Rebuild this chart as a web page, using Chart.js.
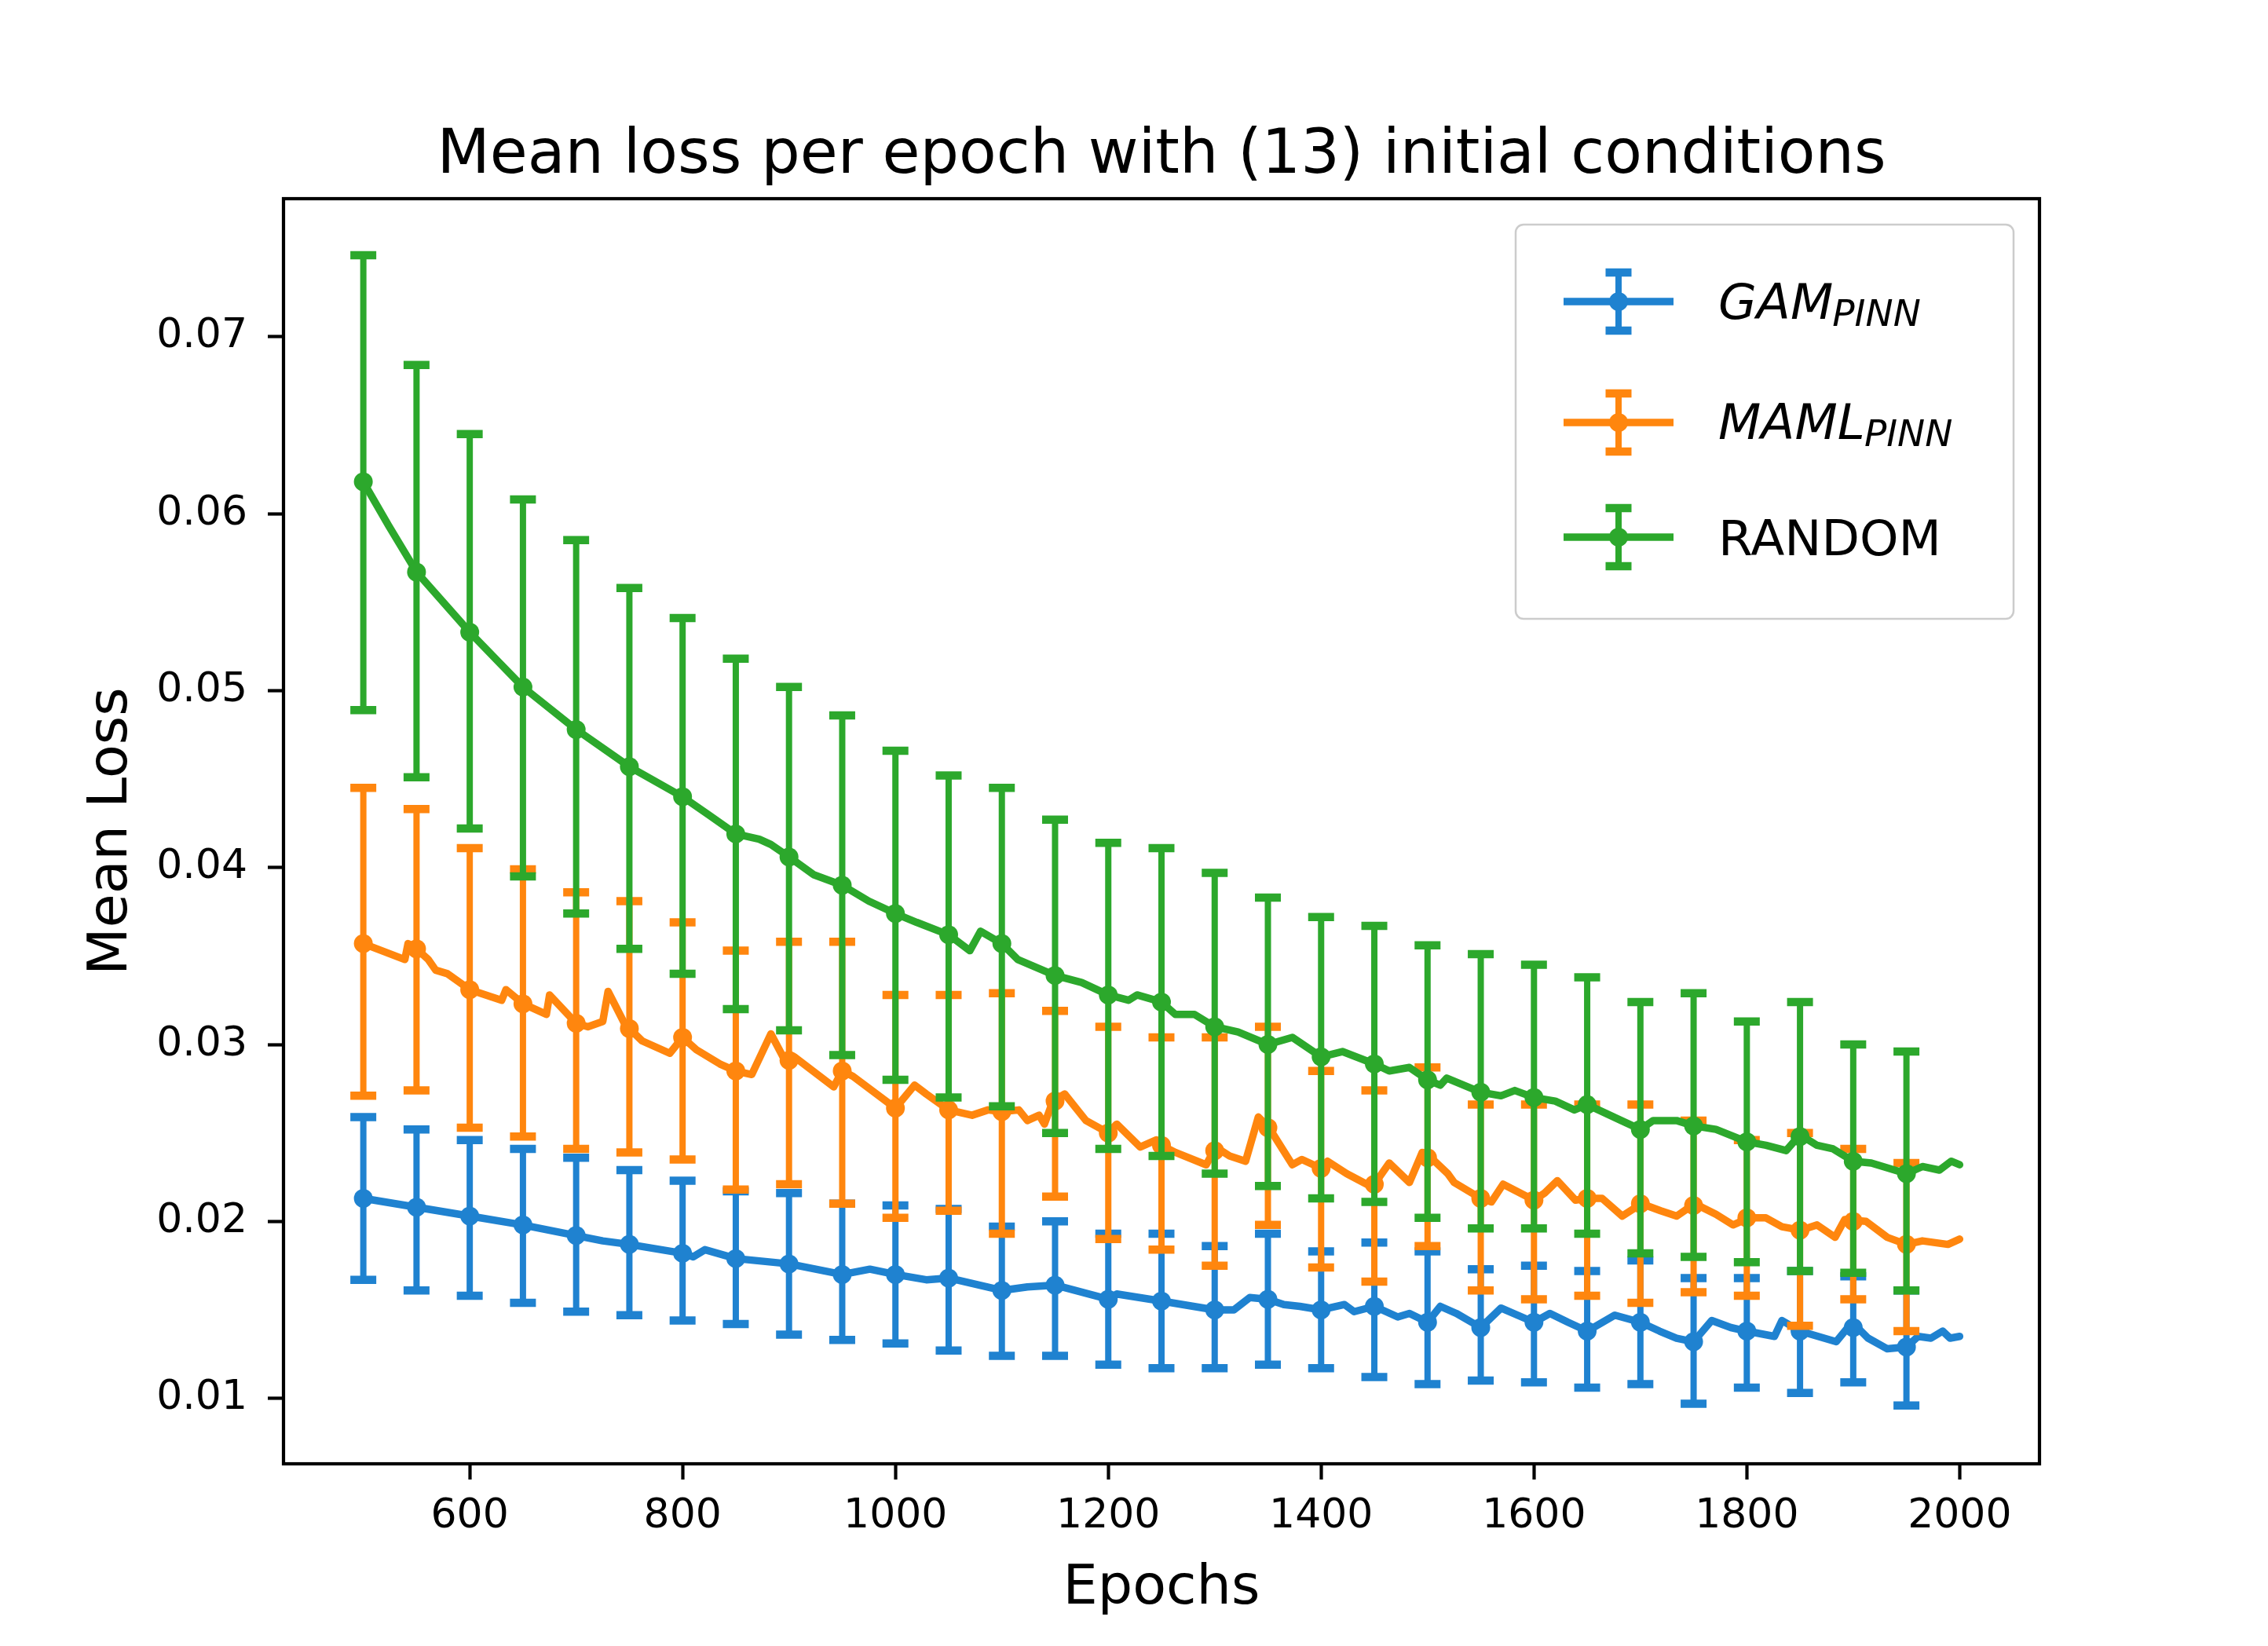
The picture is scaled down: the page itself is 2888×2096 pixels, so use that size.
<!DOCTYPE html>
<html>
<head>
<meta charset="utf-8">
<script src="https://cdn.jsdelivr.net/npm/chart.js@4.4.1/dist/chart.umd.min.js"></script>
<style>
  html, body { margin: 0; padding: 0; background: #ffffff; }
  #wrap { width: 2888px; height: 2096px; }
</style>
</head>
<body>
<div id="wrap"><canvas id="lossChart" width="2888" height="2096"></canvas></div>
<script>
/* ---------------- DATA ---------------- */

const markerEpochs = [500, 550, 600, 650, 700, 750, 800, 850, 900, 950,
                      1000, 1050, 1100, 1150, 1200, 1250, 1300, 1350, 1400, 1450,
                      1500, 1550, 1600, 1650, 1700, 1750, 1800, 1850, 1900, 1950];

const gamMean = [0.0213, 0.0208, 0.0203, 0.0198, 0.0192, 0.0187, 0.0182, 0.0179, 0.0176, 0.0170,
                 0.0170, 0.0168, 0.0161, 0.0164, 0.0156, 0.0155, 0.0150, 0.0156, 0.0150, 0.0152,
                 0.0143, 0.0140, 0.0143, 0.0138, 0.0143, 0.0132, 0.0138, 0.0138, 0.0140, 0.0129];
const gamHigh = [0.0259, 0.0252, 0.0246, 0.0241, 0.0236, 0.0229, 0.0223, 0.0217, 0.0216, 0.0210,
                 0.0209, 0.0207, 0.0197, 0.0200, 0.0193, 0.0193, 0.0186, 0.0193, 0.0183, 0.0188,
                 0.0183, 0.0173, 0.0175, 0.0172, 0.0178, 0.0168, 0.0168, 0.0172, 0.0169, 0.0161];
const gamLow  = [0.0167, 0.0161, 0.0158, 0.0154, 0.0149, 0.0147, 0.0144, 0.0142, 0.0136, 0.0133,
                 0.0131, 0.0127, 0.0124, 0.0124, 0.0119, 0.0117, 0.0117, 0.0119, 0.0117, 0.0112,
                 0.0108, 0.0110, 0.0109, 0.0106, 0.0108, 0.0097, 0.0106, 0.0103, 0.0109, 0.0096];

const mamlMean = [0.0357, 0.0354, 0.0331, 0.0323, 0.0312, 0.0309, 0.0304, 0.0285, 0.0291, 0.0285,
                  0.0264, 0.0263, 0.0262, 0.0268, 0.0250, 0.0243, 0.0240, 0.0253, 0.0230, 0.0221,
                  0.0236, 0.0213, 0.0212, 0.0213, 0.0210, 0.0209, 0.0202, 0.0195, 0.0200, 0.0187];
const mamlHigh = [0.0445, 0.0433, 0.0411, 0.0399, 0.0386, 0.0381, 0.0369, 0.0353, 0.0358, 0.0358,
                  0.0328, 0.0328, 0.0329, 0.0319, 0.0310, 0.0304, 0.0304, 0.0310, 0.0285, 0.0274,
                  0.0287, 0.0266, 0.0266, 0.0266, 0.0266, 0.0257, 0.0246, 0.0250, 0.0241, 0.0233];
const mamlLow  = [0.0271, 0.0274, 0.0253, 0.0248, 0.0241, 0.0239, 0.0235, 0.0218, 0.0221, 0.0210,
                  0.0202, 0.0206, 0.0193, 0.0214, 0.0190, 0.0184, 0.0175, 0.0198, 0.0174, 0.0166,
                  0.0186, 0.0161, 0.0156, 0.0158, 0.0154, 0.0160, 0.0158, 0.0141, 0.0156, 0.0138];

const randMean = [0.0618, 0.0567, 0.0533, 0.0502, 0.0478, 0.0457, 0.0440, 0.0419, 0.0406, 0.0390,
                  0.0374, 0.0362, 0.0357, 0.0339, 0.0328, 0.0324, 0.0310, 0.0300, 0.0293, 0.0289,
                  0.0280, 0.0273, 0.0270, 0.0266, 0.0252, 0.0254, 0.0245, 0.0248, 0.0234, 0.0227];
const randHigh = [0.0746, 0.0684, 0.0645, 0.0608, 0.0585, 0.0558, 0.0541, 0.0518, 0.0502, 0.0486,
                  0.0466, 0.0452, 0.0445, 0.0427, 0.0414, 0.0411, 0.0397, 0.0383, 0.0372, 0.0367,
                  0.0356, 0.0351, 0.0345, 0.0338, 0.0324, 0.0329, 0.0313, 0.0324, 0.0300, 0.0296];
const randLow  = [0.0489, 0.0451, 0.0422, 0.0395, 0.0374, 0.0354, 0.0340, 0.0320, 0.0308, 0.0294,
                  0.0280, 0.0270, 0.0265, 0.0250, 0.0241, 0.0237, 0.0227, 0.0220, 0.0213, 0.0211,
                  0.0202, 0.0196, 0.0196, 0.0193, 0.0182, 0.0180, 0.0177, 0.0172, 0.0171, 0.0161];

// per-epoch mean curves, [epoch, loss]
const gamCurve = [[500,0.0213],[550,0.0208],[600,0.0203],[650,0.0198],[700,0.0192],[725,0.0189],
  [750,0.0187],[800,0.0182],[810,0.0180],[821,0.0184],[850,0.0179],[900,0.0176],[950,0.0170],
  [976,0.0173],[1000,0.0170],[1029,0.0167],[1050,0.0168],[1100,0.0161],[1124,0.0163],[1150,0.0164],
  [1200,0.0156],[1208,0.0159],[1250,0.0155],[1300,0.0150],[1318,0.0150],[1333,0.0157],[1350,0.0156],
  [1365,0.0153],[1380,0.0152],[1400,0.0150],[1422,0.0153],[1431,0.0149],[1450,0.0152],[1472,0.0146],
  [1483,0.0148],[1500,0.0143],[1512,0.0152],[1527,0.0148],[1550,0.0140],[1569,0.0151],[1600,0.0143],
  [1615,0.0148],[1632,0.0143],[1650,0.0138],[1676,0.0147],[1700,0.0143],[1718,0.0138],[1734,0.0134],
  [1750,0.0132],[1767,0.0144],[1785,0.0140],[1800,0.0138],[1826,0.0135],[1833,0.0144],[1850,0.0138],
  [1884,0.0132],[1899,0.0143],[1914,0.0134],[1932,0.0128],[1950,0.0129],[1961,0.0135],[1973,0.0134],
  [1984,0.0138],[1991,0.0134],[2000,0.0135]];

const mamlCurve = [[500,0.0357],[539,0.0348],[542,0.0357],[550,0.0354],[561,0.0348],[568,0.0342],
  [579,0.0340],[600,0.0331],[630,0.0325],[634,0.0331],[650,0.0323],[672,0.0317],[675,0.0328],
  [700,0.0312],[711,0.0310],[725,0.0313],[730,0.0330],[747,0.0310],[750,0.0309],[762,0.0302],
  [788,0.0295],[800,0.0304],[813,0.0297],[835,0.0289],[850,0.0285],[865,0.0283],[883,0.0306],
  [897,0.0290],[905,0.0293],[942,0.0276],[950,0.0285],[960,0.0282],[1000,0.0264],[1018,0.0277],
  [1029,0.0272],[1050,0.0263],[1072,0.0260],[1087,0.0263],[1100,0.0262],[1116,0.0263],[1124,0.0257],
  [1135,0.0260],[1140,0.0255],[1148,0.0268],[1159,0.0272],[1179,0.0257],[1200,0.0250],[1208,0.0255],
  [1230,0.0242],[1245,0.0246],[1250,0.0243],[1263,0.0239],[1292,0.0232],[1301,0.0242],[1314,0.0237],
  [1329,0.0234],[1341,0.0259],[1351,0.0253],[1373,0.0232],[1382,0.0235],[1400,0.0230],[1406,0.0234],
  [1424,0.0227],[1446,0.0220],[1450,0.0221],[1464,0.0233],[1483,0.0222],[1495,0.0239],[1505,0.0235],
  [1519,0.0227],[1525,0.0222],[1550,0.0213],[1560,0.0211],[1571,0.0221],[1600,0.0212],[1610,0.0216],
  [1622,0.0223],[1639,0.0212],[1650,0.0213],[1664,0.0213],[1683,0.0203],[1701,0.0210],[1719,0.0206],
  [1734,0.0203],[1751,0.0210],[1771,0.0204],[1787,0.0198],[1802,0.0202],[1818,0.0202],[1833,0.0197],
  [1851,0.0195],[1866,0.0198],[1883,0.0191],[1892,0.0201],[1912,0.0200],[1932,0.0191],[1950,0.0187],
  [1965,0.0189],[1989,0.0187],[2000,0.0190]];

const randCurve = [[500,0.0618],[524,0.0593],[550,0.0567],[600,0.0533],[650,0.0502],[700,0.0478],
  [750,0.0457],[800,0.0440],[824,0.0430],[850,0.0419],[872,0.0416],[883,0.0413],[900,0.0406],
  [923,0.0396],[950,0.0390],[975,0.0381],[1000,0.0374],[1020,0.0369],[1050,0.0362],[1070,0.0353],
  [1080,0.0364],[1100,0.0357],[1115,0.0348],[1150,0.0339],[1175,0.0335],[1200,0.0328],[1219,0.0325],
  [1227,0.0328],[1250,0.0324],[1263,0.0317],[1281,0.0317],[1300,0.0310],[1322,0.0307],[1350,0.0300],
  [1373,0.0304],[1400,0.0293],[1420,0.0296],[1450,0.0289],[1464,0.0285],[1483,0.0287],[1500,0.0280],
  [1512,0.0277],[1518,0.0281],[1550,0.0273],[1569,0.0271],[1582,0.0274],[1600,0.0270],[1620,0.0268],
  [1638,0.0263],[1650,0.0266],[1682,0.0257],[1700,0.0252],[1712,0.0257],[1734,0.0257],[1750,0.0254],
  [1771,0.0252],[1800,0.0245],[1818,0.0243],[1837,0.0240],[1850,0.0249],[1866,0.0243],[1881,0.0241],
  [1900,0.0234],[1917,0.0233],[1950,0.0227],[1965,0.0231],[1981,0.0229],[1992,0.0234],[2000,0.0232]];

const xTicks = [600, 800, 1000, 1200, 1400, 1600, 1800, 2000];
const yTicks = [0.01, 0.02, 0.03, 0.04, 0.05, 0.06, 0.07];

const titleText = "Mean loss per epoch with (13) initial conditions";

/* ---------------- STYLE ---------------- */

const BLUE = "#1f82d0";
const ORANGE = "#ff860e";
const GREEN = "#2ca82c";
const FONT = "'DejaVu Sans', 'Liberation Sans', sans-serif";

const LINE_W = 9.5;
const BAR_W = 8;
const CAP_W = 33;
const CAP_THICK = 10.5;
const MARKER_R = 12;

/* ---------------- ERROR BARS, FRAME, TEXT, LEGEND ---------------- */

function drawErrorBar(ctx, px, top, bottom, color) {
    ctx.strokeStyle = color;
    ctx.lineCap = "butt";

    ctx.lineWidth = BAR_W;
    ctx.beginPath();
    ctx.moveTo(px, top);
    ctx.lineTo(px, bottom);
    ctx.stroke();

    ctx.lineWidth = CAP_THICK;
    ctx.beginPath();
    ctx.moveTo(px - CAP_W / 2, top);
    ctx.lineTo(px + CAP_W / 2, top);
    ctx.moveTo(px - CAP_W / 2, bottom);
    ctx.lineTo(px + CAP_W / 2, bottom);
    ctx.stroke();
}

const decorPlugin = {
    id: "decor",

    beforeDatasetDraw(chart, args) {
        const ds = chart.data.datasets[args.index];
        if (!ds.errHigh) return;

        const ctx = chart.ctx;
        const x = chart.scales.x;
        const y = chart.scales.y;

        ctx.save();
        ds.data.forEach((p, i) => {
            drawErrorBar(ctx,
                x.getPixelForValue(p.x),
                y.getPixelForValue(ds.errHigh[i]),
                y.getPixelForValue(ds.errLow[i]),
                ds.backgroundColor);
        });
        ctx.restore();
    },

    afterDraw(chart) {
        const ctx = chart.ctx;
        const area = chart.chartArea;
        const cx = (area.left + area.right) / 2;

        ctx.save();

        // axes frame
        ctx.strokeStyle = "#000000";
        ctx.lineWidth = 4.2;
        ctx.strokeRect(area.left, area.top, area.right - area.left, area.bottom - area.top);

        // title and axis labels
        ctx.fillStyle = "#000000";
        ctx.textAlign = "center";
        ctx.textBaseline = "alphabetic";
        ctx.font = "78px " + FONT;
        ctx.fillText(titleText, cx, 220);

        ctx.font = "70px " + FONT;
        ctx.fillText("Epochs", cx, 2042);

        ctx.save();
        ctx.translate(161, (area.top + area.bottom) / 2);
        ctx.rotate(-Math.PI / 2);
        ctx.fillText("Mean Loss", 0, 0);
        ctx.restore();

        // legend
        const box = { left: 1930, top: 286, right: 2564, bottom: 788 };
        ctx.fillStyle = "rgba(255,255,255,0.8)";
        ctx.strokeStyle = "#cccccc";
        ctx.lineWidth = 2.5;
        ctx.beginPath();
        ctx.roundRect(box.left, box.top, box.right - box.left, box.bottom - box.top, 10);
        ctx.fill();
        ctx.stroke();

        const entries = [
            { color: BLUE, y: 384, main: "GAM", sub: "PINN", italic: true, base: 406 },
            { color: ORANGE, y: 538, main: "MAML", sub: "PINN", italic: true, base: 559 },
            { color: GREEN, y: 684, main: "RANDOM", sub: "", italic: false, base: 707 }
        ];

        entries.forEach(e => {
            const hx = 2061;

            ctx.strokeStyle = e.color;
            ctx.lineWidth = LINE_W;
            ctx.lineCap = "butt";
            ctx.beginPath();
            ctx.moveTo(1991, e.y);
            ctx.lineTo(2131, e.y);
            ctx.stroke();

            drawErrorBar(ctx, hx, e.y - 37, e.y + 37, e.color);

            ctx.fillStyle = e.color;
            ctx.beginPath();
            ctx.arc(hx, e.y, MARKER_R, 0, Math.PI * 2);
            ctx.fill();

            ctx.fillStyle = "#000000";
            ctx.textAlign = "left";
            ctx.font = (e.italic ? "italic " : "") + "63px " + FONT;
            ctx.fillText(e.main, 2188, e.base);
            if (e.sub) {
                const w = ctx.measureText(e.main).width;
                ctx.font = "italic 47px " + FONT;
                ctx.fillText(e.sub, 2188 + w - 1, e.base + 9);
            }
        });

        ctx.restore();
    }
};

/* ---------------- CHART ---------------- */

function toPoints(curve) {
    return curve.map(p => ({ x: p[0], y: p[1] }));
}

function markerPoints(means) {
    return markerEpochs.map((e, i) => ({ x: e, y: means[i] }));
}

function curveDataset(label, curve, color, order) {
    return {
        label: label,
        data: toPoints(curve),
        borderColor: color,
        backgroundColor: color,
        borderWidth: LINE_W,
        borderJoinStyle: "round",
        borderCapStyle: "round",
        pointRadius: 0,
        tension: 0,
        order: order
    };
}

function markerDataset(label, means, low, high, color, order) {
    return {
        label: label,
        data: markerPoints(means),
        showLine: false,
        backgroundColor: color,
        borderColor: color,
        pointRadius: MARKER_R,
        pointBorderWidth: 0,
        errLow: low,
        errHigh: high,
        order: order
    };
}

Chart.defaults.font.family = FONT;
Chart.defaults.color = "#000000";

const tickStyle = {
    display: true,
    drawOnChartArea: false,
    drawTicks: true,
    tickLength: 20,
    tickWidth: 4.2,
    tickColor: "#000000"
};

new Chart(document.getElementById("lossChart").getContext("2d"), {
    type: "line",
    data: {
        datasets: [
            curveDataset("GAM_PINN", gamCurve, BLUE, 6),
            markerDataset("GAM_PINN bars", gamMean, gamLow, gamHigh, BLUE, 5),
            curveDataset("MAML_PINN", mamlCurve, ORANGE, 4),
            markerDataset("MAML_PINN bars", mamlMean, mamlLow, mamlHigh, ORANGE, 3),
            curveDataset("RANDOM", randCurve, GREEN, 2),
            markerDataset("RANDOM bars", randMean, randLow, randHigh, GREEN, 1)
        ]
    },
    options: {
        responsive: false,
        animation: false,
        devicePixelRatio: 1,
        layout: { padding: { left: 0, top: 253, right: 291, bottom: 0 } },
        plugins: {
            legend: { display: false },
            tooltip: { enabled: false },
            title: { display: false }
        },
        scales: {
            x: {
                type: "linear",
                min: 425,
                max: 2075,
                afterBuildTicks: s => { s.ticks = xTicks.map(v => ({ value: v })); },
                afterFit: s => { s.height = 232; },
                grid: tickStyle,
                border: { display: false },
                ticks: {
                    font: { size: 52 },
                    color: "#000000",
                    padding: 16,
                    maxRotation: 0,
                    callback: v => String(v)
                }
            },
            y: {
                type: "linear",
                min: 0.0063,
                max: 0.0778,
                afterBuildTicks: s => { s.ticks = yTicks.map(v => ({ value: v })); },
                afterFit: s => { s.width = 361; },
                grid: tickStyle,
                border: { display: false },
                ticks: {
                    font: { size: 52 },
                    color: "#000000",
                    padding: 26,
                    callback: v => v.toFixed(2)
                }
            }
        }
    },
    plugins: [decorPlugin]
});
</script>
</body>
</html>
